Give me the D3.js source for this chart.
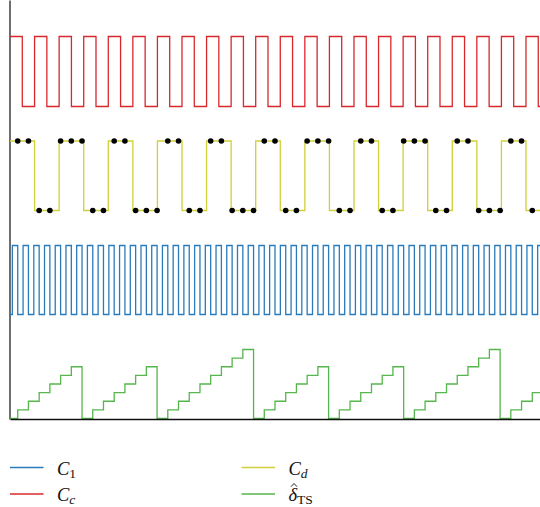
<!DOCTYPE html>
<html>
<head>
<meta charset="utf-8">
<script src="https://cdn.jsdelivr.net/npm/d3@7"></script>
<style>
body { margin: 0; background: #fff; }
.legend text { font-family: "Liberation Serif", "DejaVu Serif", serif; font-size: 18.5px; fill: #111; }
</style>
</head>
<body>
<svg id="chart" width="540" height="507"></svg>
<script>
// time is counted in periods of C1, the whole window is about 49.4 of them
var tEnd = 49.44;

// C1 : level of each half period (0.5), first piece is the low bit before the first rise
var c1Start = [0, 0.22];
var c1Levels = [0,
  1,0,1,0,1,0,1,0,1,0, 1,0,1,0,1,0,1,0,1,0, 1,0,1,0,1,0,1,0,1,0, 1,0,1,0,1,0,1,0,1,0,
  1,0,1,0,1,0,1,0,1,0, 1,0,1,0,1,0,1,0,1,0, 1,0,1,0,1,0,1,0,1,0, 1,0,1,0,1,0,1,0,1,0,
  1,0,1,0,1,0,1,0,1,0, 1,0,1,0,1,0,1,0,1];

// Cc : half period 1.146
var ccHalf = 1.146;
var ccLevels = [1,0,1,0,1,0,1,0,1,0, 1,0,1,0,1,0,1,0,1,0, 1,0,1,0,1,0,1,0,1,0,
  1,0,1,0,1,0,1,0,1,0, 1,0,1,0];

// Cd : changes on every rising edge of Cc
var cdStep = 2.292;
var cdLevels = [1,0,1,0,1,0,1,0,1,0, 1,0,1,0,1,0,1,0,1,0, 1,0];

// delta TS : count, first value before the first sample, then one value per sample
var sampleStart = 0.72;
var deltaLevels = [0,
  1,2,3,4,5,6,0,
  1,2,3,4,5,6,0,
  1,2,3,4,5,6,7,8,0,
  1,2,3,4,5,6,0,
  1,2,3,4,5,6,0,
  1,2,3,4,5,6,7,8,0,
  1,2,3];

var colors = {c1: "#2b7bba", cc: "#d8282c", cd: "#d0d03a", ts: "#55b64b"};

var svg = d3.select("#chart");

var x = d3.scaleLinear().domain([0, tEnd]).range([10, 540]);

var yCc = d3.scaleLinear().domain([0, 1]).range([106.5, 36.5]),
    yCd = d3.scaleLinear().domain([0, 1]).range([210.5, 141]),
    yC1 = d3.scaleLinear().domain([0, 1]).range([314.5, 245.5]),
    yTs = d3.scaleLinear().domain([0, 8]).range([418.5, 349.5]);

// turn a list of levels into step points
function stepPoints(levels, startTimes) {
  var pts = [];
  levels.forEach(function(v, i) {
    pts.push([startTimes(i), v]);
  });
  pts.push([tEnd, levels[levels.length - 1]]);
  return pts.filter(function(p) { return p[0] <= tEnd; });
}

var c1Pts = stepPoints(c1Levels, function(i) { return i == 0 ? c1Start[0] : c1Start[1] + (i - 1) * 0.5; });
var ccPts = stepPoints(ccLevels, function(i) { return i * ccHalf; });
var cdPts = stepPoints(cdLevels, function(i) { return i * cdStep; });
var tsPts = stepPoints(deltaLevels, function(i) { return i == 0 ? 0 : sampleStart + (i - 1); });

function drawSignal(pts, yScale, color) {
  var line = d3.line()
    .x(function(d) { return x(d[0]); })
    .y(function(d) { return yScale(d[1]); })
    .curve(d3.curveStepAfter);
  svg.append("path")
    .datum(pts)
    .attr("d", line)
    .attr("fill", "none")
    .attr("stroke", color)
    .attr("stroke-width", 1.3);
}

// axes, no ticks
var yAxisScale = d3.scaleLinear().domain([0, 1]).range([419, 0]);
svg.append("g")
    .attr("transform", "translate(9.5,0)")
    .call(d3.axisLeft(yAxisScale).ticks(0).tickSizeOuter(0))
    .select(".domain").attr("stroke", "#4a4a4a").attr("stroke-width", 1.6);

drawSignal(ccPts, yCc, colors.cc);
drawSignal(cdPts, yCd, colors.cd);
drawSignal(c1Pts, yC1, colors.c1);
drawSignal(tsPts, yTs, colors.ts);

svg.append("g")
    .attr("transform", "translate(0,419)")
    .call(d3.axisBottom(x).ticks(0).tickSizeOuter(0))
    .select(".domain").attr("stroke", "#111").attr("stroke-width", 1.3);

// sample dots on Cd
var samples = deltaLevels.slice(1).map(function(v, i) { return sampleStart + i; });
svg.selectAll(".dot")
  .data(samples)
  .enter().append("circle")
    .attr("class", "dot")
    .attr("cx", function(d) { return x(d); })
    .attr("cy", function(d) { return yCd(cdLevels[Math.floor(d / cdStep)]); })
    .attr("r", 2.8)
    .attr("fill", "#000");

// legend
var legend = svg.append("g").attr("class", "legend");
var items = [
  {color: colors.c1, lx: 10, ly: 467.5, main: "C", sub: "1", subItalic: false},
  {color: colors.cc, lx: 10, ly: 494, main: "C", sub: "c", subItalic: true},
  {color: colors.cd, lx: 241.5, ly: 467.5, main: "C", sub: "d", subItalic: true},
  {color: colors.ts, lx: 241.5, ly: 494, main: "\u03B4", sub: "TS", subItalic: false, hat: true}
];
items.forEach(function(it) {
  legend.append("line")
    .attr("x1", it.lx).attr("x2", it.lx + 33.5)
    .attr("y1", it.ly).attr("y2", it.ly)
    .attr("stroke", it.color).attr("stroke-width", 1.5);
  var t = legend.append("text")
    .attr("x", it.lx + 47)
    .attr("y", it.ly + 7);
  t.append("tspan")
    .attr("font-style", "italic")
    .text(it.main);
  t.append("tspan")
    .attr("font-style", it.subItalic ? "italic" : "normal")
    .attr("font-size", "13.5px")
    .attr("dy", 3)
    .text(it.sub);
  // hat over delta drawn as a small stroke
  if (it.hat) {
    var hx = it.lx + 52.5, hy = it.ly - 10.5;
    legend.append("path")
      .attr("d", "M" + (hx - 3) + "," + (hy + 3.2) + "L" + hx + "," + hy + "L" + (hx + 3) + "," + (hy + 3.2))
      .attr("fill", "none")
      .attr("stroke", "#111")
      .attr("stroke-width", 0.9);
  }
});
</script>
</body>
</html>
